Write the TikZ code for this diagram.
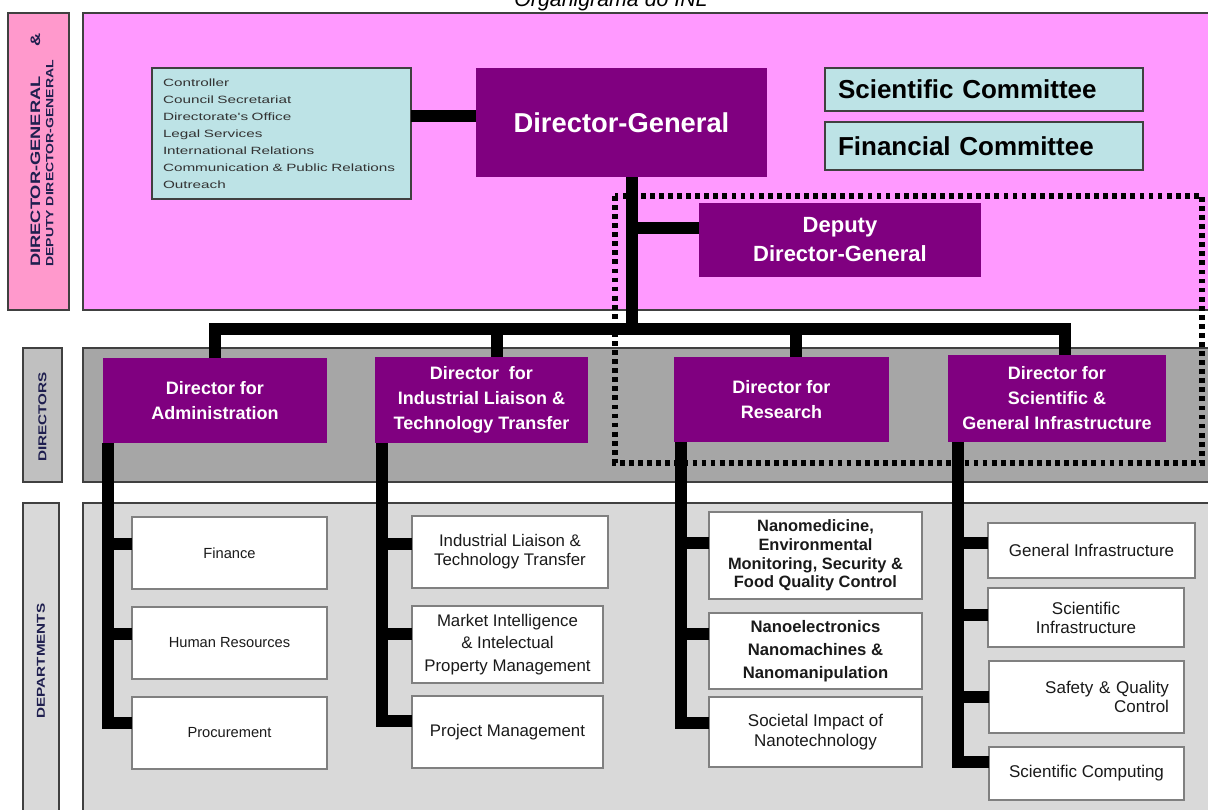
\documentclass[tikz,border=0pt]{standalone}
\usepackage{fontspec}
\setmainfont{Liberation Sans}
\newfontfamily\lblfont[FakeStretch=1.33]{Liberation Sans}
\newfontfamily\listfont[FakeStretch=1.45]{Liberation Sans}
\usetikzlibrary{calc}
\definecolor{pinkarea}{HTML}{FF99FF}
\definecolor{pinklbl}{HTML}{FF99CC}
\definecolor{purp}{HTML}{800080}
\definecolor{cyanbox}{HTML}{BDE3E6}
\definecolor{grayarea}{HTML}{A6A6A6}
\definecolor{graylbl}{HTML}{C0C0C0}
\definecolor{lightarea}{HTML}{D9D9D9}
\definecolor{navytext}{HTML}{1F1F4F}
\definecolor{depttext}{HTML}{1A1A1A}
\definecolor{edgecol}{HTML}{404040}
\definecolor{deptedge}{HTML}{808080}
\newcommand\mkbox[7]{%
  \pgfmathsetmacro\bw{(#4-#2)*0.75}%
  \pgfmathsetmacro\bh{(#5-#3)*0.75}%
  \node[inner sep=0pt, outer sep=0pt, minimum width=\bw pt, minimum height=\bh pt, #6] (#1) at ({(#2+#4)/2},{(#3+#5)/2}) {#7};}
\newcommand\stub[4]{\coordinate (#4) at ($(#1.west)+(0,#2)$); \draw[conn] (#4) -- (#4 -| #3);}
\begin{document}
\begin{tikzpicture}[x=0.75pt,y=-0.75pt,
  conn/.style={line width=9pt, black, line join=miter},
  areabox/.style={draw=edgecol, line width=1.1pt},
  lbltext/.style={font=\lblfont\bfseries\fontsize{8.6}{10}\selectfont, text=navytext, rotate=90, align=center, inner sep=0pt},
  purpbox/.style={fill=purp, text=white},
  dirbox/.style={purpbox, font=\bfseries\fontsize{13.5}{18.75}\selectfont, align=center},
  cyanb/.style={fill=cyanbox, draw=edgecol, line width=1.1pt},
  dept/.style={fill=white, draw=deptedge, line width=1.5pt, text=depttext, align=center},
  deptA/.style={dept, font=\fontsize{11}{14}\selectfont},
  deptB/.style={dept, font=\fontsize{12.6}{14.25}\selectfont},
  deptC/.style={dept, font=\fontsize{12.75}{14.25}\selectfont},
  dotbox/.style={line width=4pt, dash pattern=on 3.6pt off 3.2pt, black}
]
\useasboundingbox (0,0) rectangle (1208,810);
\fill[white] (0,0) rectangle (1208,810);
\node[font=\itshape\fontsize{16}{19}\selectfont, anchor=base, inner sep=0pt] (title) at (611,6.5) {Organigrama do INL};
% bands
\mkbox{lab1}{8}{13}{69}{310}{fill=pinklbl, areabox}{}
\mkbox{area1}{83}{13}{1215}{310}{fill=pinkarea, areabox}{}
\mkbox{lab2}{23}{348}{62}{482}{fill=graylbl, areabox}{}
\mkbox{area2}{83}{348}{1215}{482}{fill=grayarea, areabox}{}
\mkbox{lab3}{23}{503}{59}{815}{fill=lightarea, areabox}{}
\mkbox{area3}{83}{503}{1215}{815}{fill=lightarea, areabox}{}
\node[lbltext, align=left, anchor=west] (lab1t) at (42,267) {{\fontsize{10.3}{10.5}\selectfont DIRECTOR-GENERAL\hspace{22pt}\&}\\{\fontsize{7.9}{10.5}\selectfont DEPUTY DIRECTOR-GENERAL}};
\node[lbltext] (lab2t) at (42.5,417) {DIRECTORS};
\node[lbltext] (lab3t) at (41,661) {DEPARTMENTS};
% top level
\mkbox{list}{152}{68}{411}{199}{cyanb, align=left, text width=177.75pt, text=black!80, font=\listfont\fontsize{7.9}{12.75}\selectfont}{Controller\\Council Secretariat\\Directorate's Office\\Legal Services\\International Relations\\Communication \& Public Relations\\Outreach}
\mkbox{dg}{476}{68}{767}{177}{purpbox, font=\bfseries\fontsize{20.5}{24}\selectfont}{Director-General}
\mkbox{sc}{825}{68}{1143}{111}{cyanb, align=left, text width=219pt, font=\bfseries\fontsize{19.5}{22}\selectfont}{Scientific Committee}
\mkbox{fc}{825}{122}{1143}{170}{cyanb, align=left, text width=219pt, font=\bfseries\fontsize{19.5}{22}\selectfont}{Financial Committee}
\mkbox{ddg}{699}{203}{981}{277}{purpbox, align=center, font=\bfseries\fontsize{16.5}{21.75}\selectfont}{Deputy\\Director-General}
% directors
\mkbox{adm}{103}{358}{327}{443}{dirbox}{Director for\\Administration}
\mkbox{ilt}{375}{357}{588}{443}{dirbox}{Director\ \ for\\Industrial Liaison \&\\Technology Transfer}
\mkbox{res}{674}{357}{889}{442}{dirbox}{Director for\\Research}
\mkbox{sci}{948}{355}{1166}{442}{dirbox}{Director for\\Scientific \&\\General Infrastructure}
% departments
\mkbox{fin}{132}{517}{327}{589}{deptA}{Finance}
\mkbox{hr}{132}{607}{327}{679}{deptA}{Human Resources}
\mkbox{pro}{132}{697}{327}{769}{deptA}{Procurement}
\mkbox{ilt1}{412}{516}{608}{588}{deptB}{Industrial Liaison \&\\Technology Transfer}
\mkbox{ilt2}{412}{606}{603}{683}{deptB, font=\fontsize{12.6}{17}\selectfont}{Market Intelligence\\\& Intelectual\\Property Management}
\mkbox{ilt3}{412}{696}{603}{768}{deptB}{Project Management}
\mkbox{r1}{709}{512}{922}{599}{dept, font=\bfseries\fontsize{12.3}{13.9}\selectfont}{Nanomedicine,\\Environmental\\Monitoring, Security \&\\Food Quality Control}
\mkbox{r2}{709}{613}{922}{689}{dept, font=\bfseries\fontsize{12.5}{17.25}\selectfont}{Nanoelectronics\\Nanomachines \&\\Nanomanipulation}
\mkbox{r3}{709}{697}{922}{767}{dept, font=\fontsize{12.75}{15}\selectfont}{Societal Impact of\\Nanotechnology}
\mkbox{s1}{988}{523}{1195}{578}{deptC}{General Infrastructure}
\mkbox{s2}{988}{588}{1184}{647}{deptC}{Scientific\\Infrastructure}
\mkbox{s3}{989}{661}{1184}{733}{deptC, align=right, text width=123.75pt}{Safety \& Quality\\Control}
\mkbox{s4}{989}{747}{1184}{800}{deptC}{Scientific Computing}
% dotted frame round deputy and research directors
\draw[dotbox] (615,196) rectangle (1202,463);
% connectors top
\coordinate (lc) at ($(dg.west)+(0,-6.5)$);
\draw[conn] (lc) -- (lc -| list.east);
\coordinate (dgx) at (632,329);
\draw[conn] (dg.south -| dgx) -- (dgx);
\coordinate (ddgc) at ($(ddg.west)+(0,-12)$);
\draw[conn] (ddgc) -- (ddgc -| dgx);
\coordinate (b1) at (215,329);
\coordinate (b2) at (497,329);
\coordinate (b3) at (796,329);
\coordinate (b4) at (1065,329);
\draw[conn] (b1 |- adm.north) -- (b1) -- (b4) -- (b4 |- sci.north);
\draw[conn] (b2) -- (b2 |- ilt.north);
\draw[conn] (b3) -- (b3 |- res.north);
% spines
\coordinate (sa) at (108,0);
\coordinate (si) at (382,0);
\coordinate (sr) at (681,0);
\coordinate (ss) at (958,0);
\stub{fin}{-9}{sa}{pa1}
\stub{hr}{-9}{sa}{pa2}
\coordinate (pa3) at ($(pro.west)+(0,-10)$);
\draw[conn] (adm.south -| sa) |- (pa3);
\stub{ilt1}{-8}{si}{pi1}
\stub{ilt2}{-10.5}{si}{pi2}
\coordinate (pi3) at ($(ilt3.west)+(0,-11)$);
\draw[conn] (ilt.south -| si) |- (pi3);
\stub{r1}{-12.5}{sr}{pr1}
\stub{r2}{-17}{sr}{pr2}
\coordinate (pr3) at ($(r3.west)+(0,-9)$);
\draw[conn] (res.south -| sr) |- (pr3);
\stub{s1}{-7.5}{ss}{ps1}
\stub{s2}{-2.5}{ss}{ps2}
\stub{s3}{0}{ss}{ps3}
\coordinate (ps4) at ($(s4.west)+(0,-11.5)$);
\draw[conn] (sci.south -| ss) |- (ps4);
\end{tikzpicture}
\end{document}
